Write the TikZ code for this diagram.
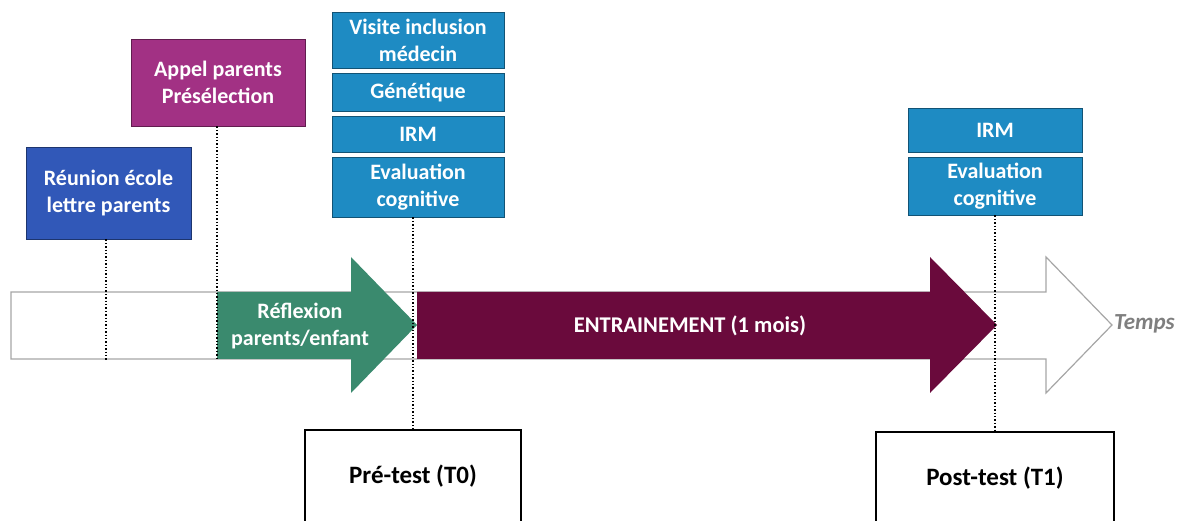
\documentclass[tikz,border=0pt]{standalone}
\usepackage{fontspec}
\setmainfont{Carlito}
\definecolor{reublue}{HTML}{3158B8}
\definecolor{appmag}{HTML}{A23184}
\definecolor{cyanbox}{HTML}{1E8BC3}
\definecolor{arrgreen}{HTML}{3A8A6E}
\definecolor{arrpurple}{HTML}{6A0A3C}
\definecolor{shaftgray}{HTML}{A6A6A6}
\definecolor{tempsgray}{HTML}{7F7F7F}
\tikzset{
  colbox/.style={draw=#1!60!black, fill=#1, line width=0.8pt, text=white, font=\bfseries\fontsize{22}{27}\selectfont, align=center, inner sep=0pt},
  testbox/.style={draw=black, fill=white, line width=1.2pt, inner sep=0pt},
  testtext/.style={font=\bfseries\fontsize{25}{30}\selectfont},
  timeline/.style={draw=black, line width=1.4pt, dotted},
  bigarrow/.style={line width=1.2pt},
}
\begin{document}
\begin{tikzpicture}[x=1pt,y=-1pt]
\useasboundingbox (0,0) rectangle (1184,521);
\begin{scope}
\clip (0,0) rectangle (1184,521);
% white time arrow
\draw[bigarrow, draw=shaftgray, fill=white] (11,292) -- (1046,292) -- (1046,257) -- (1112,325) -- (1046,393) -- (1046,359) -- (11,359) -- cycle;
% green arrow
\fill[arrgreen] (217,292) -- (351,292) -- (351,257) -- (417,325) -- (351,393) -- (351,359) -- (217,359) -- cycle;
% purple arrow
\fill[arrpurple] (417,292) -- (930,292) -- (930,257) -- (997,325) -- (930,393) -- (930,359) -- (417,359) -- cycle;
\node[text=white, font=\bfseries\fontsize{22}{27}\selectfont, align=center] (refl) at (300,326) {Réflexion\\parents/enfant};
\node[text=white, font=\bfseries\fontsize{22.5}{27}\selectfont] (entr) at (690,326) {ENTRAINEMENT (1 mois)};
\node[text=tempsgray, font=\bfseries\itshape\fontsize{23}{27}\selectfont, anchor=west, inner sep=1pt] (temps) at (1113,324) {Temps};

% boxes
\node[colbox=reublue, minimum width=165pt, minimum height=92pt] (reu) at (108.5,193) {Réunion école\\lettre parents};
\node[colbox=appmag, minimum width=174pt, minimum height=87pt] (app) at (218,82.5) {Appel parents\\Présélection};
\node[colbox=cyanbox, minimum width=172pt, minimum height=56pt] (vis) at (418,40) {Visite inclusion\\médecin};
\node[colbox=cyanbox, minimum width=172pt, minimum height=38pt] (gen) at (418,92) {Génétique};
\node[colbox=cyanbox, minimum width=172pt, minimum height=36pt] (irma) at (418,134) {IRM};
\node[colbox=cyanbox, minimum width=172pt, minimum height=60pt] (evala) at (418,187) {Evaluation\\cognitive};
\node[colbox=cyanbox, minimum width=174pt, minimum height=44pt] (irmb) at (995,130) {IRM};
\node[colbox=cyanbox, minimum width=174pt, minimum height=58pt] (evalb) at (995,186) {Evaluation\\cognitive};

\node[testbox, minimum width=216pt, minimum height=96pt] (pre) at (413,478) {};
\node[testtext] (pretxt) at (413,476) {Pré-test (T0)};
\node[testbox, minimum width=238pt, minimum height=96pt] (post) at (995,480) {};
\node[testtext] (posttxt) at (995,478) {Post-test (T1)};

% dotted timelines
\coordinate (reuend) at (106,360);
\coordinate (append) at (217,360);
\draw[timeline] (reu.south -| reuend) -- (reuend);
\draw[timeline] (app.south -| append) -- (append);
\draw[timeline] (evala.south -| pre.north) -- (pre.north);
\draw[timeline] (evalb.south -| post.north) -- (post.north);
\end{scope}
\end{tikzpicture}
\end{document}
